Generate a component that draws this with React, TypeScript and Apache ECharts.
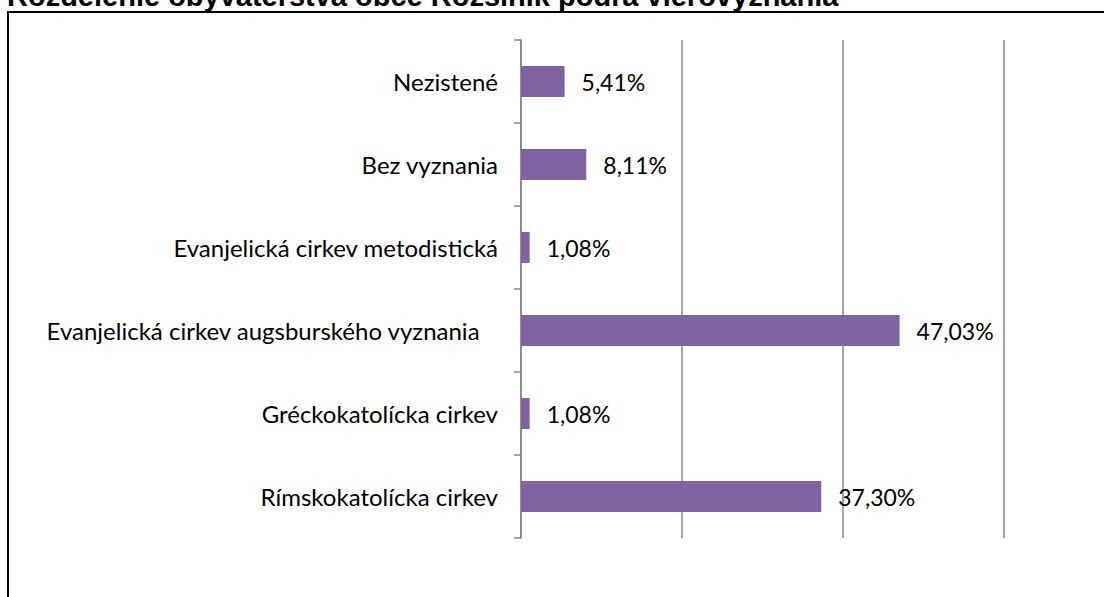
import React, { useEffect, useRef } from "react";
import * as echarts from "echarts";

const titleText = "Rozdelenie obyvateľstva obce Rožšinik podľa vierovyznania";
const categories = [
  "Rímskokatolícka cirkev",
  "Gréckokatolícka cirkev",
  "Evanjelická cirkev augsburského vyznania   ",
  "Evanjelická cirkev metodistická",
  "Bez vyznania",
  "Nezistené",
];
const values = [37.3, 1.08, 47.03, 1.08, 8.11, 5.41];
const xMin = 0;
const xMax = 60;
const xInterval = 20;

export default function App() {
  const ref = useRef<HTMLDivElement>(null);
  useEffect(() => {
    if (!ref.current) return;
    const chart = echarts.init(ref.current, null, { renderer: "svg" });
    const font = "Lato, 'Open Sans', sans-serif";
    chart.setOption({
      animation: false,
      backgroundColor: "#ffffff",
      graphic: [
        {
          type: "rect",
          shape: { x: 8, y: 12, width: 1200, height: 700 },
          style: { fill: "none", stroke: "#000000", lineWidth: 2 },
          z: 0,
        },
        {
          type: "text",
          x: 7,
          y: 10,
          style: {
            text: titleText,
            font: "bold 29px 'Liberation Sans', Arial, sans-serif",
            fill: "#000000",
            verticalAlign: "bottom",
          },
        },
      ],
      grid: { left: 521, right: 100, top: 40, bottom: 59, containLabel: false },
      xAxis: {
        type: "value",
        min: xMin,
        max: xMax,
        interval: xInterval,
        axisLine: { show: false },
        axisTick: { show: false },
        axisLabel: { show: false },
        splitLine: { show: true, lineStyle: { color: "#868686", width: 1.5 } },
      },
      yAxis: {
        type: "category",
        data: categories,
        axisLine: { show: true, lineStyle: { color: "#868686", width: 1.5 } },
        axisTick: { show: true, length: 7, lineStyle: { color: "#868686", width: 1.5 } },
        axisLabel: {
          margin: 23,
          color: "#000000",
          fontSize: 24,
          fontFamily: font,
        },
      },
      series: [
        {
          type: "bar",
          data: values,
          barWidth: 31,
          itemStyle: { color: "#8064A2" },
          label: {
            show: true,
            position: "right",
            distance: 17,
            color: "#000000",
            fontSize: 23,
            fontFamily: font,
            formatter: (p: any) => p.value.toFixed(2).replace(".", ",") + "%",
          },
        },
      ],
    });
    return () => chart.dispose();
  }, []);
  return (
    <div
      ref={ref}
      style={{ position: "fixed", left: 0, top: 0, width: 1104, height: 597 }}
    />
  );
}
